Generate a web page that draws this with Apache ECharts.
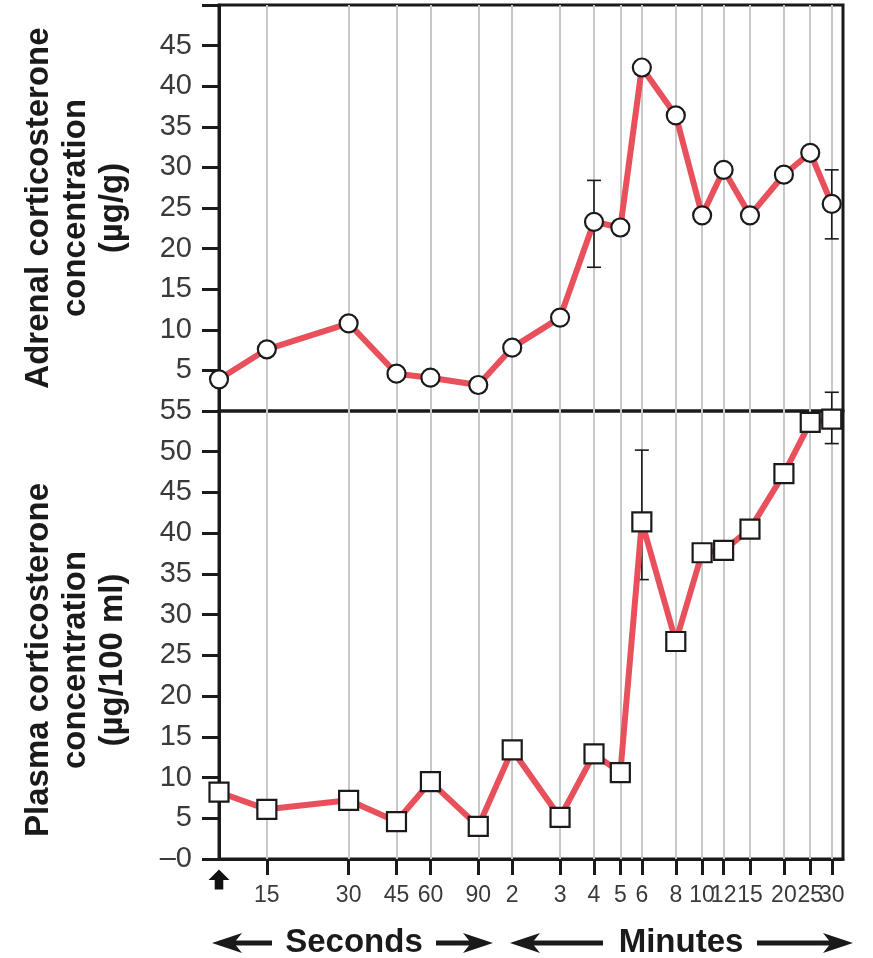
<!DOCTYPE html>
<html>
<head>
<meta charset="utf-8">
<script src="https://cdn.jsdelivr.net/npm/echarts@6/dist/echarts.min.js"></script>
<style>html,body{margin:0;padding:0;background:#fff;}#chart{width:873px;height:958px;}</style>
</head>
<body>
<div id="chart"></div>
<script>
// Time points in seconds (first point = injection at t≈0, placed at the left edge of the log axis)
const timeSec = [10, 15, 30, 45, 60, 90, 120, 180, 240, 300, 360, 480, 600, 720, 900, 1200, 1500, 1800];
// Tick positions (seconds) and their labels
const tickSec = [15, 30, 45, 60, 90, 120, 180, 240, 300, 360, 480, 600, 720, 900, 1200, 1500, 1800];
const tickLabels = ['15', '30', '45', '60', '90', '2', '3', '4', '5', '6', '8', '10', '12', '15', '20', '25', '30'];

// Adrenal corticosterone (µg/g)
const adrenal = [3.9, 7.6, 10.8, 4.6, 4.1, 3.2, 7.8, 11.5, 23.3, 22.6, 42.3, 36.4, 24.1, 29.7, 24.1, 29.1, 31.8, 25.5];
const adrenalErrLow = [null, null, null, null, null, null, null, null, 17.7, null, null, null, null, null, null, null, null, 21.2];
const adrenalErrHigh = [null, null, null, null, null, null, null, null, 28.4, null, null, null, null, null, null, null, null, 29.7];

// Plasma corticosterone (µg/100 ml)
const plasma = [8.2, 6.1, 7.2, 4.6, 9.5, 4.0, 13.4, 5.1, 12.9, 10.6, 41.4, 26.7, 37.6, 37.9, 40.5, 47.3, 53.6, 54.0];
const plasmaErrLow = [null, null, null, null, null, null, null, null, null, null, 34.3, null, null, null, null, null, null, 51.0];
const plasmaErrHigh = [null, null, null, null, null, null, null, null, null, null, 50.2, null, null, null, null, null, null, 57.3];

const FONT = 'Liberation Sans, Arial, Helvetica, sans-serif';
const LINE_COLOR = '#E8505B';
const INK = '#1a1a1a';

// split tick labels over two label-only axes so the crowded labels are never auto-hidden
const labelSecA = tickSec.filter((v, i) => i % 2 === 0);
const labelSecB = tickSec.filter((v, i) => i % 2 === 1);
function tickFormatter(v) { const i = tickSec.indexOf(Math.round(v)); return i >= 0 ? tickLabels[i] : ''; }

function errData(lo, hi) {
  const out = [];
  timeSec.forEach((t, i) => { if (lo[i] != null) out.push([t, lo[i], hi[i]]); });
  return out;
}
function renderErr(params, api) {
  const x = api.value(0), lo = api.value(1), hi = api.value(2);
  const a = api.coord([x, hi]), b = api.coord([x, lo]);
  const w = 7;
  const st = { stroke: INK, lineWidth: 1.6 };
  return { type: 'group', children: [
    { type: 'line', shape: { x1: a[0], y1: a[1], x2: b[0], y2: b[1] }, style: st },
    { type: 'line', shape: { x1: a[0] - w, y1: a[1], x2: a[0] + w, y2: a[1] }, style: st },
    { type: 'line', shape: { x1: b[0] - w, y1: b[1], x2: b[0] + w, y2: b[1] }, style: st }
  ]};
}
// injection arrow drawn just below the x axis at the first time point
function renderArrow(params, api) {
  const p = api.coord([api.value(0), api.value(1)]);
  return { type: 'path',
    shape: { pathData: 'M11,0 L22,11 L15.5,11 L15.5,21 L6.5,21 L6.5,11 L0,11 Z', x: p[0] - 10.5, y: p[1] + 10, width: 21, height: 21 },
    style: { fill: '#111' } };
}
const gridMarkLine = {
  z: 1, silent: true, symbol: ['none', 'none'], animation: false,
  label: { show: false },
  lineStyle: { color: '#c8c8c8', width: 2, type: 'solid' },
  emphasis: { disabled: true },
  data: tickSec.map(v => ({ xAxis: v }))
};

function arrowGroup(tipL, shaftL, shaftR, tipR, y) {
  const L = 30, H = 10, N = 8;
  return [
    { type: 'line', shape: { x1: tipL + N, y1: y, x2: shaftL, y2: y }, style: { stroke: INK, lineWidth: 5 } },
    { type: 'line', shape: { x1: shaftR, y1: y, x2: tipR - N, y2: y }, style: { stroke: INK, lineWidth: 5 } },
    { type: 'polygon', shape: { points: [[tipL, y], [tipL + L, y - H], [tipL + L - N, y], [tipL + L, y + H]] }, style: { fill: INK } },
    { type: 'polygon', shape: { points: [[tipR, y], [tipR - L, y - H], [tipR - L + N, y], [tipR - L, y + H]] }, style: { fill: INK } }
  ];
}

const labelAxisBase = {
  type: 'log', gridIndex: 1, min: 10, max: 1980, logBase: 10, position: 'bottom', offset: 0,
  axisLine: { show: false }, axisTick: { show: false },
  splitLine: { show: false }, minorTick: { show: false }, minorSplitLine: { show: false }
};
const labelStyle = { show: true, fontSize: 23, fontFamily: FONT, color: '#3a3a3a', margin: 25,
  showMinLabel: true, showMaxLabel: true, hideOverlap: false, formatter: tickFormatter };

const chart = echarts.init(document.getElementById('chart'), null, { renderer: 'canvas' });
const option = {
  animation: false,
  backgroundColor: '#fff',
  grid: [
    { left: 219, right: 30, top: 5, height: 406, show: true, borderColor: INK, borderWidth: 3, backgroundColor: 'transparent' },
    { left: 219, right: 30, top: 411, height: 448, show: true, borderColor: INK, borderWidth: 3, backgroundColor: 'transparent' }
  ],
  xAxis: [
    { type: 'log', gridIndex: 0, min: 10, max: 1980, logBase: 10,
      axisLine: { show: false }, axisTick: { show: false }, axisLabel: { show: false },
      splitLine: { show: false }, minorTick: { show: false }, minorSplitLine: { show: false } },
    { type: 'log', gridIndex: 1, min: 10, max: 1980, logBase: 10, position: 'bottom',
      axisLine: { show: true, lineStyle: { color: INK, width: 3 } },
      axisTick: { show: true, inside: false, length: 16, lineStyle: { color: INK, width: 3 }, customValues: tickSec },
      axisLabel: Object.assign({}, labelStyle, { customValues: labelSecA }),
      splitLine: { show: false }, minorTick: { show: false }, minorSplitLine: { show: false } },
    Object.assign({}, labelAxisBase, { axisLabel: Object.assign({}, labelStyle, { customValues: labelSecB }) })
  ],
  yAxis: [
    { type: 'value', gridIndex: 0, min: 0, max: 50, interval: 5,
      axisLine: { show: true, lineStyle: { color: INK, width: 3 } },
      axisTick: { show: true, inside: false, length: 17, lineStyle: { color: INK, width: 3 } },
      axisLabel: { fontSize: 29, fontFamily: FONT, color: '#3a3a3a', margin: 27,
        formatter: v => (v === 0 || v === 50) ? '' : String(v) },
      splitLine: { show: false } },
    { type: 'value', gridIndex: 1, min: 0, max: 55, interval: 5,
      axisLine: { show: true, lineStyle: { color: INK, width: 3 } },
      axisTick: { show: true, inside: false, length: 17, lineStyle: { color: INK, width: 3 } },
      axisLabel: { fontSize: 29, fontFamily: FONT, color: '#3a3a3a', margin: 27, showMinLabel: true, showMaxLabel: true,
        formatter: v => v === 0 ? '–0' : String(v) },
      splitLine: { show: false } }
  ],
  series: [
    { type: 'custom', xAxisIndex: 0, yAxisIndex: 0, z: 2, renderItem: renderErr,
      encode: { x: 0, y: [1, 2] }, data: errData(adrenalErrLow, adrenalErrHigh), silent: true },
    { type: 'custom', xAxisIndex: 1, yAxisIndex: 1, z: 2, renderItem: renderErr,
      encode: { x: 0, y: [1, 2] }, data: errData(plasmaErrLow, plasmaErrHigh), silent: true },
    { type: 'custom', xAxisIndex: 1, yAxisIndex: 1, z: 4, renderItem: renderArrow, clip: false,
      encode: { x: 0, y: 1 }, data: [[timeSec[0], 0]], silent: true },
    { type: 'line', name: 'Adrenal', xAxisIndex: 0, yAxisIndex: 0, z: 3, clip: false,
      data: timeSec.map((t, i) => [t, adrenal[i]]),
      symbol: 'circle', symbolSize: 18, showAllSymbol: true,
      itemStyle: { color: '#fff', borderColor: INK, borderWidth: 2.2 },
      lineStyle: { color: LINE_COLOR, width: 6 },
      emphasis: { disabled: true },
      markLine: gridMarkLine },
    { type: 'line', name: 'Plasma', xAxisIndex: 1, yAxisIndex: 1, z: 3, clip: false,
      data: timeSec.map((t, i) => [t, plasma[i]]),
      symbol: 'rect', symbolSize: 19, showAllSymbol: true,
      itemStyle: { color: '#fff', borderColor: INK, borderWidth: 2.2 },
      lineStyle: { color: LINE_COLOR, width: 6 },
      emphasis: { disabled: true },
      markLine: gridMarkLine }
  ],
  graphic: [
    { type: 'text', x: 76, y: 208, rotation: Math.PI / 2,
      style: { text: 'Adrenal corticosterone\nconcentration\n(µg/g)', fontSize: 33, fontWeight: 'bold', fontFamily: FONT,
        fill: INK, align: 'center', verticalAlign: 'middle', textAlign: 'center', textVerticalAlign: 'middle', lineHeight: 37 } },
    { type: 'text', x: 76, y: 660, rotation: Math.PI / 2,
      style: { text: 'Plasma corticosterone\nconcentration\n(µg/100 ml)', fontSize: 33, fontWeight: 'bold', fontFamily: FONT,
        fill: INK, align: 'center', verticalAlign: 'middle', textAlign: 'center', textVerticalAlign: 'middle', lineHeight: 37 } },
    { type: 'text', x: 354, y: 943,
      style: { text: 'Seconds', fontSize: 33, fontWeight: 'bold', fontFamily: FONT, fill: INK,
        align: 'center', verticalAlign: 'middle', textAlign: 'center', textVerticalAlign: 'middle' } },
    { type: 'text', x: 681, y: 943,
      style: { text: 'Minutes', fontSize: 33, fontWeight: 'bold', fontFamily: FONT, fill: INK,
        align: 'center', verticalAlign: 'middle', textAlign: 'center', textVerticalAlign: 'middle' } }
  ].concat(arrowGroup(212, 272, 436, 493, 943)).concat(arrowGroup(510, 603, 757, 853, 943))
};
chart.setOption(option);
</script>
</body>
</html>
